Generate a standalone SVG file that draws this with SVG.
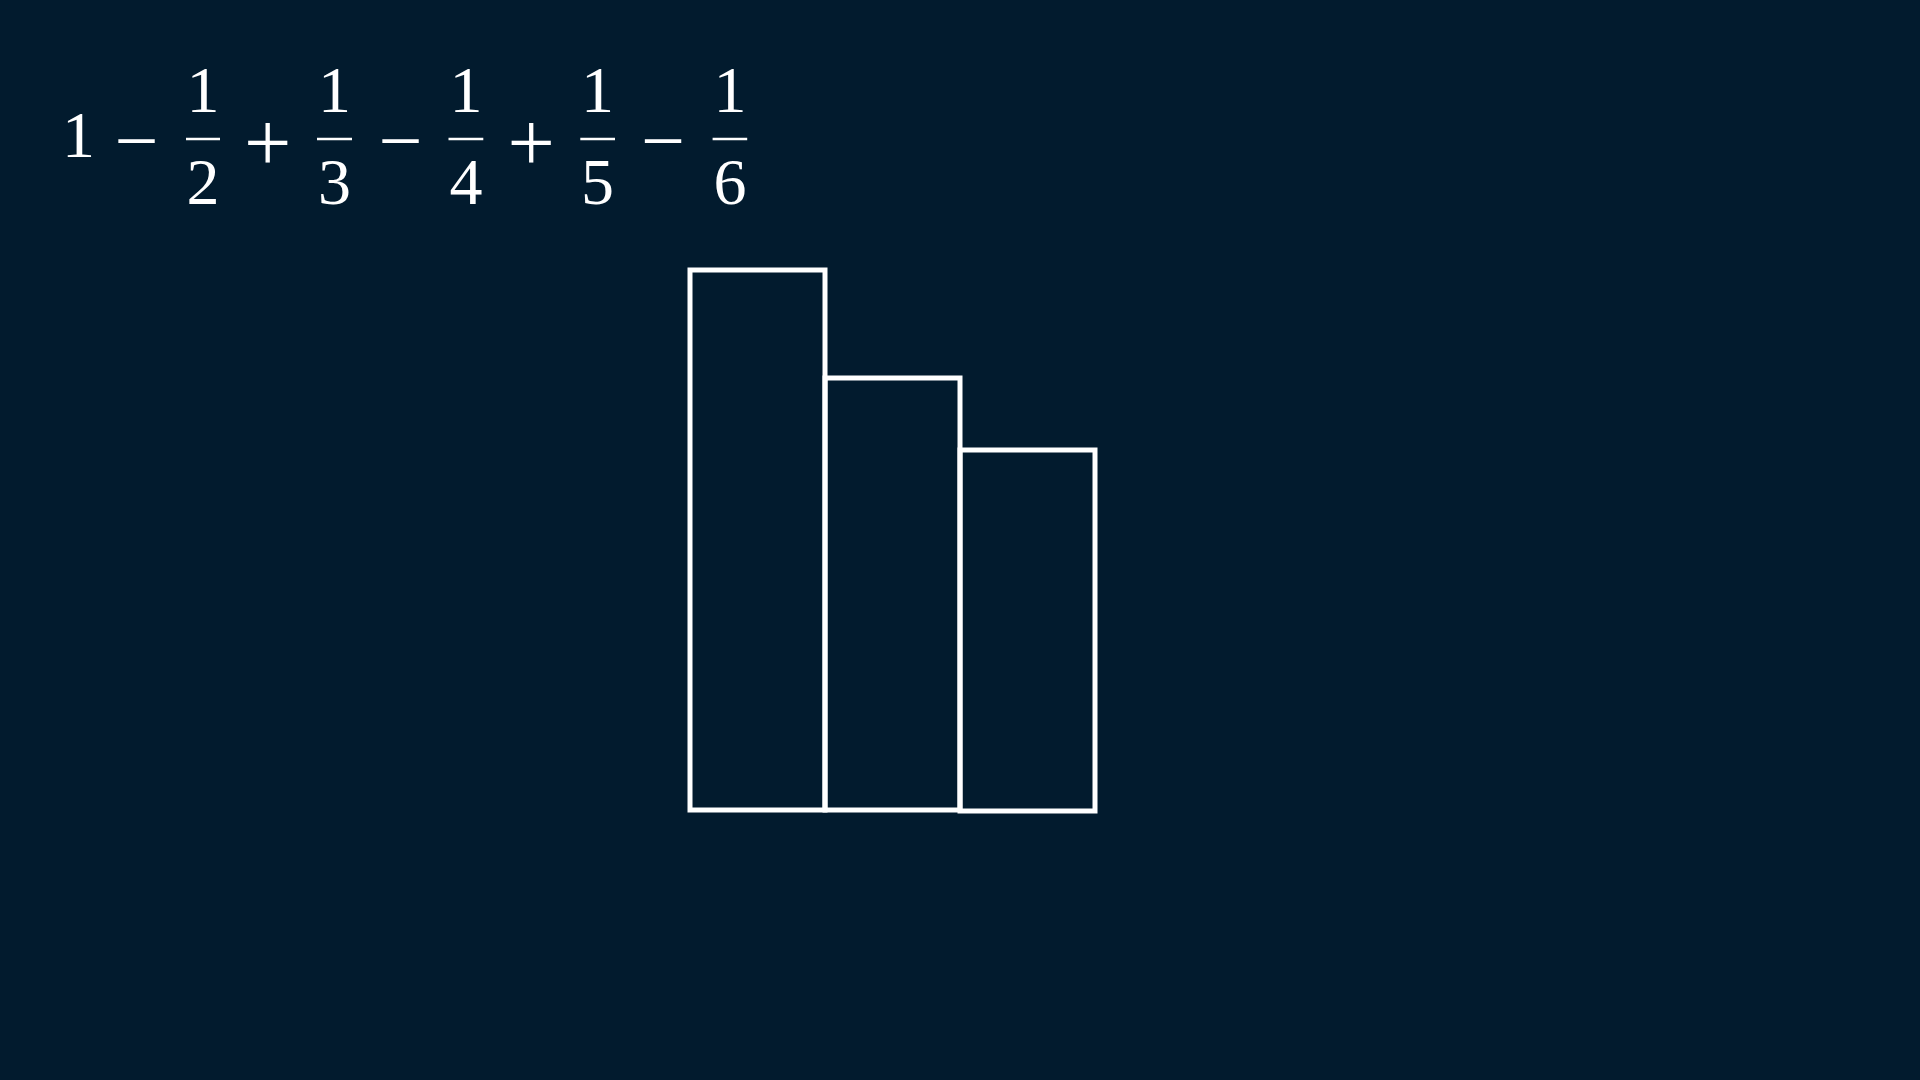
<svg xmlns="http://www.w3.org/2000/svg" width="1920" height="1080" viewBox="0 0 1920 1080">
<style>
.d{font-family:"Liberation Serif","Times New Roman",serif;font-size:66px;fill:#ffffff;text-anchor:middle}
.op{font-family:"Liberation Serif","Times New Roman",serif;fill:#ffffff;text-anchor:middle}
.bar{stroke:#ffffff;stroke-width:2.6}
.box{fill:none;stroke:#ffffff;stroke-width:5}
</style>
<rect width="1920" height="1080" fill="#021b2e"/>
<g id="formula">
<text class="d" x="78.5" y="157">1</text>
<text class="op" x="136.5" y="166.5" font-size="78">−</text>
<g id="frac2"><text class="d" x="203" y="111.5">1</text><line class="bar" x1="186" y1="139" x2="220" y2="139"/><text class="d" x="203" y="204">2</text></g>
<text class="op" x="267.7" y="171" font-size="84">+</text>
<g id="frac3"><text class="d" x="334.5" y="111.5">1</text><line class="bar" x1="317" y1="139" x2="352" y2="139"/><text class="d" x="334.5" y="204">3</text></g>
<text class="op" x="400.4" y="166.5" font-size="78">−</text>
<g id="frac4"><text class="d" x="465.9" y="111.5">1</text><line class="bar" x1="448.5" y1="139" x2="483.3" y2="139"/><text class="d" x="465.9" y="204">4</text></g>
<text class="op" x="531.3" y="171" font-size="84">+</text>
<g id="frac5"><text class="d" x="597.6" y="111.5">1</text><line class="bar" x1="580.3" y1="139" x2="615" y2="139"/><text class="d" x="597.6" y="204">5</text></g>
<text class="op" x="663" y="166.5" font-size="78">−</text>
<g id="frac6"><text class="d" x="729.9" y="111.5">1</text><line class="bar" x1="712.6" y1="139" x2="747.2" y2="139"/><text class="d" x="729.9" y="204">6</text></g>
</g>
<g id="bar1"><rect class="box" x="690" y="270" width="135" height="540"/></g>
<g id="bar2"><rect class="box" x="825" y="378" width="135" height="432"/></g>
<g id="bar3"><rect class="box" x="960" y="450" width="135" height="361"/></g>
</svg>
